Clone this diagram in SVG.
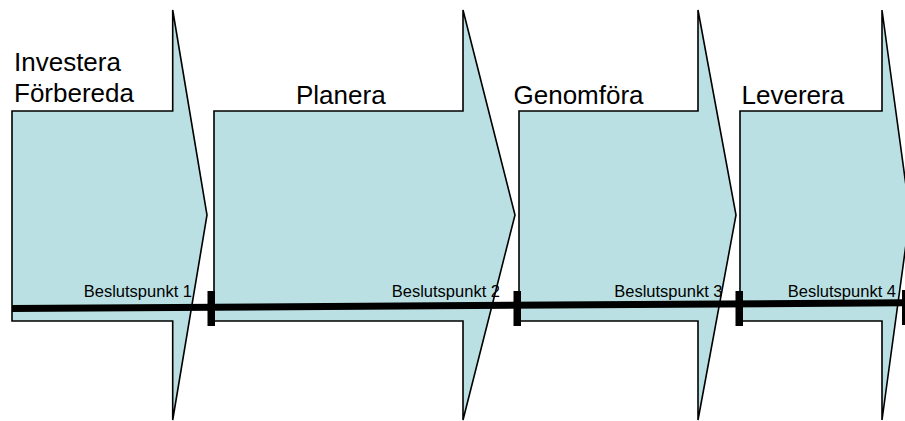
<svg xmlns="http://www.w3.org/2000/svg" width="905" height="421" viewBox="0 0 905 421">
<style>
.arrow{fill:#bae0e3;stroke:#000;stroke-width:1.6;stroke-linejoin:miter}
.title{font-family:"Liberation Sans",Arial,sans-serif;font-size:26px;fill:#000}
.bp{font-family:"Liberation Sans",Arial,sans-serif;font-size:16.5px;fill:#000;text-anchor:end}
.tick{fill:#000}
</style>
<rect width="905" height="421" fill="#fff"/>
<g id="phase1">
<polygon class="arrow" points="12,111 172.7,111 172.7,10 207,215 172.7,420 172.7,321 12,321"/>
<text class="title" x="14" y="71">Investera</text>
<text class="title" x="14" y="102">Förbereda</text>
</g>
<g id="phase2">
<polygon class="arrow" points="214,111 463,111 463,10 515,215 463,420 463,321 214,321"/>
<text class="title" x="296" y="104">Planera</text>
</g>
<g id="phase3">
<polygon class="arrow" points="519,111 698,111 698,10 736,215 698,420 698,321 519,321"/>
<text class="title" x="513.5" y="103.5">Genomföra</text>
</g>
<g id="phase4">
<polygon class="arrow" points="740,111 882,111 882,10 910,215 882,420 882,321 740,321"/>
<text class="title" x="741.5" y="103.5">Leverera</text>
</g>
<g id="connectors">
<line x1="12" y1="308.5" x2="905" y2="302.8" stroke="#000" stroke-width="7"/>
<rect class="tick" x="207.5" y="291" width="7.5" height="35"/>
<rect class="tick" x="513.5" y="291" width="7.5" height="35"/>
<rect class="tick" x="735.5" y="291" width="7.5" height="35"/>
<rect class="tick" x="902" y="290" width="7.5" height="35"/>
</g>
<g id="labels">
<text class="bp" x="192" y="297">Beslutspunkt 1</text>
<text class="bp" x="500" y="297">Beslutspunkt 2</text>
<text class="bp" x="722.5" y="296.7">Beslutspunkt 3</text>
<text class="bp" x="896" y="296.5">Beslutspunkt 4</text>
</g>
</svg>
